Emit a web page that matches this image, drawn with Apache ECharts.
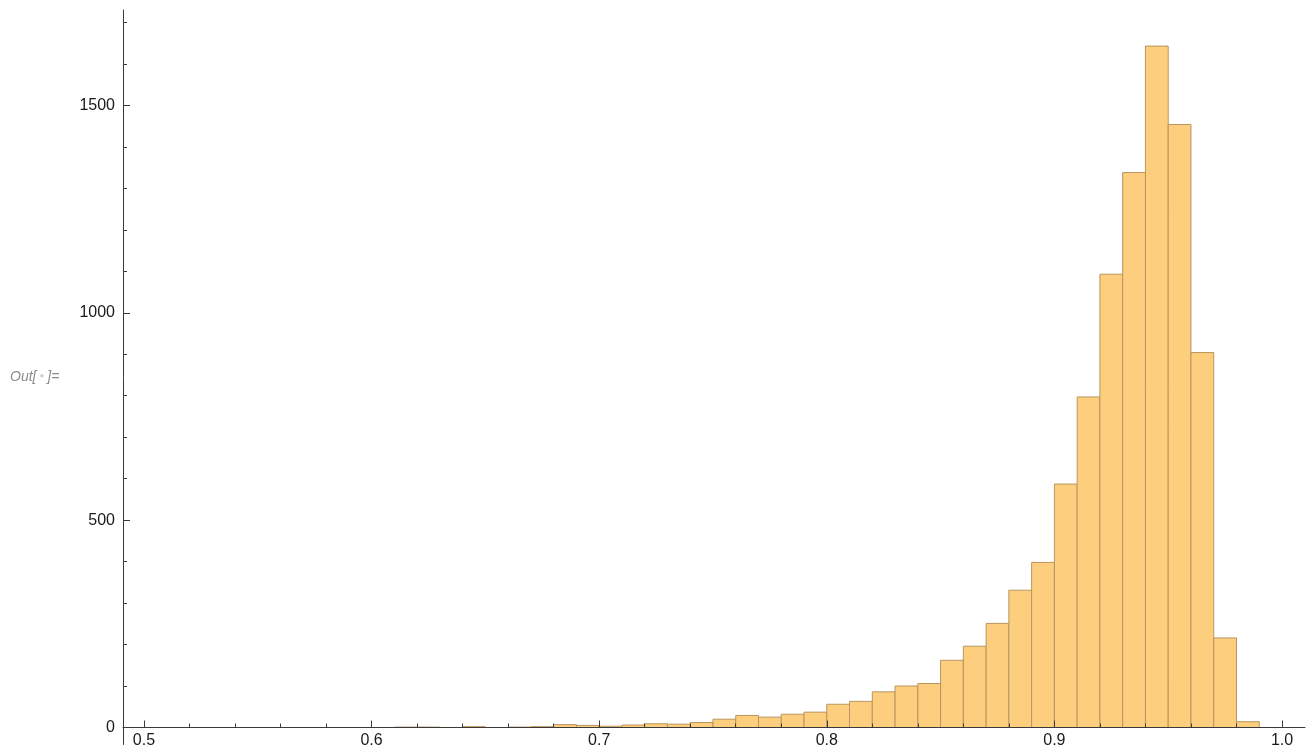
<!DOCTYPE html>
<html>
<head>
<meta charset="utf-8">
<script src="https://cdn.jsdelivr.net/npm/echarts@6/dist/echarts.min.js"></script>
<style>
html,body{margin:0;padding:0;background:#fff;}
#chart{width:1309px;height:750px;}
</style>
</head>
<body>
<div id="chart"></div>
<script>
// ---- data (histogram bins, width 0.01) ----
const binStart = [0.60,0.61,0.62,0.63,0.64,0.65,0.66,0.67,0.68,0.69,
                  0.70,0.71,0.72,0.73,0.74,0.75,0.76,0.77,0.78,0.79,
                  0.80,0.81,0.82,0.83,0.84,0.85,0.86,0.87,0.88,0.89,
                  0.90,0.91,0.92,0.93,0.94,0.95,0.96,0.97,0.98];
const binWidth = 0.01;
const counts = [0,1,1,0,2,0,1,2,7,5,
                3,6,9,8,12,20,29,25,32,37,
                56,63,86,100,106,162,196,251,331,398,
                587,797,1093,1338,1643,1454,904,216,14];
const xMajorTicks = [0.5,0.6,0.7,0.8,0.9,1.0];
const xMinorTicks = [0.52,0.54,0.56,0.58,0.62,0.64,0.66,0.68,0.72,0.74,0.76,0.78,
                     0.82,0.84,0.86,0.88,0.92,0.94,0.96,0.98];
const yMajorTicks = [0,500,1000,1500];
const yMinorTicks = [100,200,300,400,600,700,800,900,1100,1200,1300,1400,1600,1700];

const xMin = 0.4908, xMax = 1.0101;
const yMin = 0, yMax = 1730;

const axisColor = '#3a3a3a';
const labelStyle = {color:'#1a1a1a', fontSize:16, fontFamily:'"Liberation Sans", Arial, sans-serif'};

const chart = echarts.init(document.getElementById('chart'), null, {renderer:'canvas'});
const histData = binStart.map((s,i)=>[s, s+binWidth, counts[i]]);

chart.setOption({
  animation:false,
  backgroundColor:'#ffffff',
  grid:[
    {left:123, right:4, top:10, bottom:22.5, containLabel:false},
    {left:123, right:4, top:10, bottom:5.5, containLabel:false}
  ],
  xAxis:[
    {gridIndex:0, type:'value', min:xMin, max:xMax, position:'bottom', z:5,
     axisLine:{show:true, onZero:false, lineStyle:{color:axisColor, width:1}},
     axisTick:{show:true, inside:true, length:7, customValues:xMajorTicks, lineStyle:{color:axisColor}},
     axisLabel:{show:true, customValues:xMajorTicks, margin:6, lineHeight:14, hideOverlap:false,
                formatter:v=>Number(v).toFixed(1), ...labelStyle},
     splitLine:{show:false}},
    {gridIndex:0, type:'value', min:xMin, max:xMax, position:'bottom', z:5,
     axisLine:{show:false, onZero:false},
     axisTick:{show:true, inside:true, length:4, customValues:xMinorTicks, lineStyle:{color:axisColor}},
     axisLabel:{show:false},
     splitLine:{show:false}},
    {gridIndex:1, type:'value', min:0, max:1, show:false}
  ],
  yAxis:[
    {gridIndex:0, type:'value', min:yMin, max:yMax, position:'left', z:5,
     axisLine:{show:false, onZero:false},
     axisTick:{show:true, inside:true, length:7, customValues:yMajorTicks, lineStyle:{color:axisColor}},
     axisLabel:{show:true, customValues:yMajorTicks, margin:8, formatter:v=>String(Math.round(v)), ...labelStyle},
     splitLine:{show:false}},
    {gridIndex:0, type:'value', min:yMin, max:yMax, position:'left', z:5,
     axisLine:{show:false, onZero:false},
     axisTick:{show:true, inside:true, length:4, customValues:yMinorTicks, lineStyle:{color:axisColor}},
     axisLabel:{show:false},
     splitLine:{show:false}},
    {gridIndex:1, type:'value', min:0, max:1, position:'left', z:5,
     axisLine:{show:true, onZero:false, lineStyle:{color:axisColor, width:1}},
     axisTick:{show:false}, axisLabel:{show:false}, splitLine:{show:false}}
  ],
  graphic:[
    {type:'text', left:10, top:370, z:10,
     style:{
       text:'Out[{d|●}]=',
       fill:'#8c8c8c',
       font:'italic 14px "Liberation Sans", Arial, sans-serif',
       rich:{d:{fill:'#cfcfcf', fontSize:8, padding:[0,3,2,3]}}
     }}
  ],
  series:[{
    type:'custom',
    xAxisIndex:0, yAxisIndex:0,
    encode:{x:[0,1], y:2},
    data:histData,
    renderItem:function(params, api){
      const x0 = api.value(0), x1 = api.value(1), c = api.value(2);
      if (!c) return null;
      const pTop = api.coord([x0, c]);
      const pBot = api.coord([x1, 0]);
      return {
        type:'rect',
        shape:{x:pTop[0], y:pTop[1], width:pBot[0]-pTop[0], height:pBot[1]-pTop[1]},
        style:{fill:'#fdce7e', stroke:'#b8965e', lineWidth:1}
      };
    }
  }]
});
</script>
</body>
</html>
